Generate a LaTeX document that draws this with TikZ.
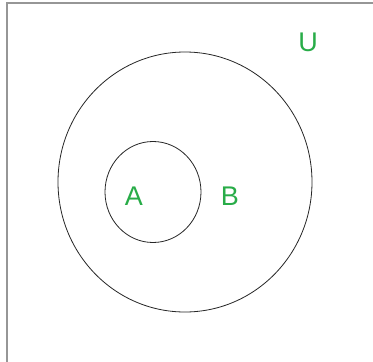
\documentclass[tikz,border=0pt]{standalone}
\usepackage{fontspec}
\setmainfont{Liberation Sans}
\definecolor{setgreen}{RGB}{40,172,72}
\definecolor{framegray}{RGB}{150,150,150}
\begin{document}
\begin{tikzpicture}[x=1pt,y=-1pt,
  setlabel/.style={text=setgreen,font=\fontsize{27}{27}\selectfont,inner sep=0pt,anchor=center},
  setline/.style={draw=black!85,line width=0.8pt}]
\useasboundingbox (0,0) rectangle (373,362);
\fill[white] (0,0) rectangle (373,362);
\draw[framegray,line width=1.6pt] (7,362) -- (7,3) -- (373,3);
\draw[setline] (185,182) ellipse [x radius=127, y radius=130];
\draw[setline] (153,192) ellipse [x radius=48, y radius=50.5];
\node[setlabel] (a) at (134,196) {A};
\node[setlabel] (b) at (230,196) {B};
\node[setlabel] (u) at (308,42) {U};
\end{tikzpicture}
\end{document}
